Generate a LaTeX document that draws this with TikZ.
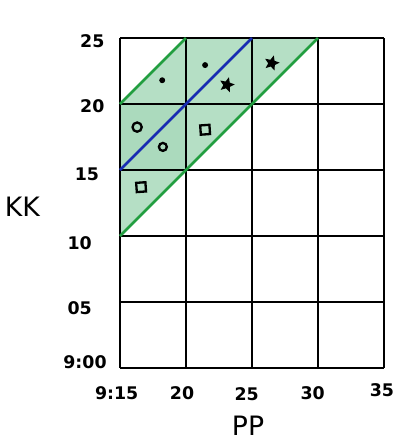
\documentclass[tikz,border=0pt]{standalone}
\usepackage{fontspec}
\setmainfont{DejaVu Sans}
\usepackage{xcolor}
\usetikzlibrary{shapes.geometric}

\definecolor{bandgreen}{RGB}{181,223,197}
\definecolor{banddark}{RGB}{171,218,189}
\definecolor{edgegreen}{RGB}{34,158,64}
\definecolor{diagblue}{RGB}{24,44,178}

\begin{document}
\begin{tikzpicture}[
    x=1cm, y=1cm,
    gridline/.style={line width=1.1pt, black},
    bandline/.style={line width=1.1pt, edgegreen},
    midline/.style={line width=1.1pt, diagblue},
    tick/.style={font=\bfseries\fontsize{7.5}{9}\selectfont, inner sep=1pt},
    axislabel/.style={font=\fontsize{11.5}{13}\selectfont, inner sep=1pt},
    dotmark/.style={circle, fill=black, inner sep=0pt, minimum size=0.09cm},
    ringmark/.style={circle, draw=black, line width=1pt, inner sep=0pt, minimum size=0.14cm},
    boxmark/.style={rectangle, draw=black, line width=1pt, inner sep=0pt, minimum size=0.14cm, rotate=4},
    starmark/.style={star, star points=5, star point ratio=2.2, fill=black, inner sep=0pt, minimum size=0.24cm, rotate=-15}
]
\useasboundingbox (-1.818,-1.076) rectangle (4.152,5.576);

% Band corners
\coordinate (lowstart) at (0,2);
\coordinate (lowend)   at (3,5);
\coordinate (midstart) at (0,3);
\coordinate (midend)   at (2,5);
\coordinate (topstart) at (0,4);
\coordinate (topend)   at (1,5);

% Shaded band
\fill[bandgreen] (lowstart) -- (lowend) -- (topend) -- (topstart) -- cycle;
\fill[banddark] (0,3) rectangle (1,4);

% Grid
\draw[gridline] (0,0) grid (4,5);

% Band edges
\draw[bandline] (lowstart) -- (lowend);
\draw[bandline] (topstart) -- (topend);
\draw[midline]  (midstart) -- (midend);

% Axis ticks
\node[tick] (k25) at (-0.42,4.95) {25};
\node[tick] (k20) at (-0.42,3.97) {20};
\node[tick] (k15) at (-0.50,2.94) {15};
\node[tick] (k10) at (-0.61,1.89) {10};
\node[tick] (k05) at (-0.61,0.91) {05};
\node[tick] (k00) at (-0.53,0.09) {9:00};

\node[tick] (p15) at (-0.05,-0.38) {9:15};
\node[tick] (p20) at (0.94,-0.38)  {20};
\node[tick] (p25) at (1.92,-0.40)  {25};
\node[tick] (p30) at (2.92,-0.38)  {30};
\node[tick] (p35) at (3.97,-0.34)  {35};

% Axis names
\node[axislabel] (pp) at (1.94,-0.87) {PP};
\node[axislabel] (kk) at (-1.48,2.44) {KK};

% Marks
\node[dotmark]  (dota)  at (0.64,4.36) {};
\node[dotmark]  (dotb)  at (1.29,4.59) {};
\node[starmark] (stara) at (1.62,4.29) {};
\node[starmark] (starb) at (2.30,4.62) {};
\node[ringmark] (ringa) at (0.26,3.65) {};
\node[ringmark, minimum size=0.12cm] (ringb) at (0.65,3.35) {};
\node[boxmark]  (boxa)  at (1.29,3.61) {};
\node[boxmark]  (boxb)  at (0.32,2.74) {};
\end{tikzpicture}
\end{document}
